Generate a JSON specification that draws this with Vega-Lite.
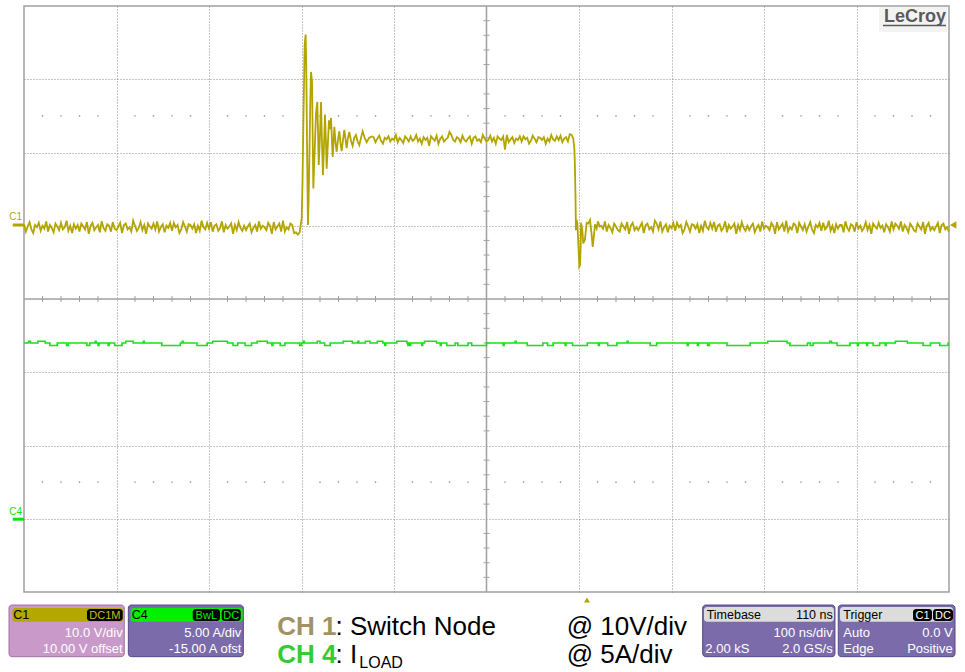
{
"$schema": "https://vega.github.io/schema/vega-lite/v6.json",
"width": 925,
"height": 586,
"autosize": {"type": "none"},
"padding": {"left": 24, "top": 6, "right": 16, "bottom": 80},
"background": "#ffffff",
"config": {
  "view": {"stroke": "#a0a0a0", "strokeWidth": 1.5},
  "axis": {"labels": false, "ticks": false, "domain": false, "titleOpacity": 0, "grid": true, "gridColor": "#8a8a8a", "gridDash": [1, 2], "gridWidth": 1},
  "text": {"font": "Liberation Sans"}
},
"datasets": {
  "gt": [{"t":-590},{"t":-570},{"t":-550},{"t":-530},{"t":-490},{"t":-470},{"t":-450},{"t":-430},{"t":-390},{"t":-370},{"t":-350},{"t":-330},{"t":-290},{"t":-270},{"t":-250},{"t":-230},{"t":-190},{"t":-170},{"t":-150},{"t":-130},{"t":-90},{"t":-70},{"t":-50},{"t":-30},{"t":10},{"t":30},{"t":50},{"t":70},{"t":110},{"t":130},{"t":150},{"t":170},{"t":210},{"t":230},{"t":250},{"t":270},{"t":310},{"t":330},{"t":350},{"t":370}],
  "gv": [{"v":-48},{"v":-46},{"v":-44},{"v":-42},{"v":-38},{"v":-36},{"v":-34},{"v":-32},{"v":-28},{"v":-26},{"v":-24},{"v":-22},{"v":-18},{"v":-16},{"v":-14},{"v":-12},{"v":-8},{"v":-6},{"v":-4},{"v":-2},{"v":2},{"v":4},{"v":6},{"v":8},{"v":12},{"v":14},{"v":16},{"v":18},{"v":22},{"v":24},{"v":26},{"v":28}],
  "boxes": [
      {"k": "c1", "t": -626.2, "t2": -501.6, "v": -51.78, "v2": -58.83},
      {"k": "c4", "t": -497.2, "t2": -372.9, "v": -51.78, "v2": -58.83},
      {"k": "tb", "t": 123.7, "t2": 266.7, "v": -51.78, "v2": -58.83},
      {"k": "tr", "t": 270.3, "t2": 396.5, "v": -51.78, "v2": -58.83}
  ],
  "heads": [
      {"k": "c1h", "t": -622.6, "t2": -502.6, "v": -52.19, "v2": -54.06},
      {"k": "c4h", "t": -494.6, "t2": -373.6, "v": -52.19, "v2": -54.06},
      {"k": "tbh", "t": 125.1, "t2": 265.6, "v": -52.05, "v2": -54.06},
      {"k": "trh", "t": 272.2, "t2": 394.3, "v": -52.05, "v2": -54.06},
      {"k": "b", "t": -541.9, "t2": -503.3, "v": -52.33, "v2": -53.97},
      {"k": "b", "t": -427.6, "t2": -398.1, "v": -52.33, "v2": -53.97},
      {"k": "b", "t": -396.3, "t2": -375.7, "v": -52.33, "v2": -53.97},
      {"k": "b", "t": 351.1, "t2": 371.6, "v": -52.33, "v2": -53.97},
      {"k": "b", "t": 372.7, "t2": 394.3, "v": -52.33, "v2": -53.97}
  ],
  "c1": [
{"t":-610,"v":0.2},{"t":-608,"v":-0.8},{"t":-606,"v":-0.1},{"t":-604,"v":0.5},{"t":-602,"v":-0.5},{"t":-600,"v":-1.0},{"t":-598,"v":0.1},{"t":-596,"v":-0.2},{"t":-594,"v":0.4},{"t":-592,"v":-0.7},
{"t":-590,"v":0.0},{"t":-588,"v":-0.4},{"t":-586,"v":0.6},{"t":-584,"v":-0.8},{"t":-582,"v":0.1},{"t":-580,"v":-0.3},{"t":-578,"v":-0.9},{"t":-576,"v":0.3},{"t":-574,"v":-0.1},{"t":-572,"v":-0.6},
{"t":-570,"v":0.4},{"t":-568,"v":-0.5},{"t":-566,"v":-0.2},{"t":-564,"v":0.7},{"t":-562,"v":-0.7},{"t":-560,"v":0.0},{"t":-558,"v":-1.0},{"t":-556,"v":0.2},{"t":-554,"v":-0.4},{"t":-552,"v":0.1},
{"t":-550,"v":-0.8},{"t":-548,"v":0.3},{"t":-546,"v":-0.1},{"t":-544,"v":-0.5},{"t":-542,"v":0.5},{"t":-540,"v":-1.1},{"t":-538,"v":0.0},{"t":-536,"v":0.4},{"t":-534,"v":-0.6},{"t":-532,"v":-0.2},
{"t":-530,"v":0.1},{"t":-528,"v":-0.9},{"t":-526,"v":0.6},{"t":-524,"v":-0.3},{"t":-522,"v":-0.7},{"t":-520,"v":0.2},{"t":-518,"v":0.0},{"t":-516,"v":-0.8},{"t":-514,"v":0.5},{"t":-512,"v":-0.4},
{"t":-510,"v":-0.6},{"t":-508,"v":-0.1},{"t":-506,"v":0.4},{"t":-504,"v":-1.0},{"t":-502,"v":0.1},{"t":-500,"v":0.3},{"t":-498,"v":-0.5},{"t":-496,"v":-0.2},{"t":-494,"v":-0.8},{"t":-492,"v":0.7},
{"t":-490,"v":0.0},{"t":-488,"v":-0.7},{"t":-486,"v":-0.3},{"t":-484,"v":0.5},{"t":-482,"v":-0.6},{"t":-480,"v":0.1},{"t":-478,"v":-1.1},{"t":-476,"v":0.3},{"t":-474,"v":-0.1},{"t":-472,"v":-0.4},
{"t":-470,"v":0.3},{"t":-468,"v":-0.5},{"t":-466,"v":0.6},{"t":-464,"v":-0.8},{"t":-462,"v":-0.2},{"t":-460,"v":0.2},{"t":-458,"v":-0.9},{"t":-456,"v":0.0},{"t":-454,"v":-0.3},{"t":-452,"v":0.4},
{"t":-450,"v":-0.7},{"t":-448,"v":0.4},{"t":-446,"v":-0.2},{"t":-444,"v":0.1},{"t":-442,"v":-1.0},{"t":-440,"v":-0.5},{"t":-438,"v":0.5},{"t":-436,"v":-0.1},{"t":-434,"v":-0.8},{"t":-432,"v":0.2},
{"t":-430,"v":0.1},{"t":-428,"v":-0.4},{"t":-426,"v":0.2},{"t":-424,"v":-1.0},{"t":-422,"v":0.0},{"t":-420,"v":-0.7},{"t":-418,"v":0.7},{"t":-416,"v":-0.2},{"t":-414,"v":-0.5},{"t":-412,"v":0.4},
{"t":-410,"v":-0.4},{"t":-408,"v":0.5},{"t":-406,"v":-0.8},{"t":-404,"v":0.0},{"t":-402,"v":0.2},{"t":-400,"v":-0.7},{"t":-398,"v":-0.3},{"t":-396,"v":0.6},{"t":-394,"v":-0.9},{"t":-392,"v":0.1},
{"t":-390,"v":-0.4},{"t":-388,"v":-0.1},{"t":-386,"v":0.3},{"t":-384,"v":-1.1},{"t":-382,"v":0.1},{"t":-380,"v":-0.6},{"t":-378,"v":0.5},{"t":-376,"v":-0.3},{"t":-374,"v":-0.7},{"t":-372,"v":0.0},
{"t":-370,"v":-0.6},{"t":-368,"v":-0.1},{"t":-366,"v":0.3},{"t":-364,"v":-0.9},{"t":-362,"v":-0.3},{"t":-360,"v":0.1},{"t":-358,"v":-0.8},{"t":-356,"v":0.6},{"t":-354,"v":-0.4},{"t":-352,"v":0.0},
{"t":-350,"v":-0.2},{"t":-348,"v":-0.6},{"t":-346,"v":0.4},{"t":-344,"v":0.0},{"t":-342,"v":-1.1},{"t":-340,"v":0.5},{"t":-338,"v":-0.5},{"t":-336,"v":-0.1},{"t":-334,"v":0.3},{"t":-332,"v":-0.8},
{"t":-330,"v":0.7},{"t":-328,"v":-0.8},{"t":-326,"v":-0.2},{"t":-324,"v":-0.5},{"t":-322,"v":0.3},{"t":-320,"v":0.1},{"t":-318,"v":-1.0},{"t":-316,"v":-0.9},{"t":-314,"v":-1.2},{"t":-312,"v":-0.9},
{"t":-310.5,"v":0.5},{"t":-309.8,"v":1.0},{"t":-308.9,"v":6.0},{"t":-308.0,"v":13.8},{"t":-307.2,"v":20.0},{"t":-306.6,"v":24.7},{"t":-305.5,"v":26.1},{"t":-304.9,"v":22.0},{"t":-304.4,"v":16.0},{"t":-303.6,"v":6.0},
{"t":-303.0,"v":0.1},{"t":-302.3,"v":3.5},{"t":-301.5,"v":9.2},{"t":-300.5,"v":17.0},{"t":-299.7,"v":21.0},{"t":-298.6,"v":19.7},{"t":-297.9,"v":12.0},{"t":-297.2,"v":5.1},{"t":-295.8,"v":10.1},{"t":-294.3,"v":15.4},
{"t":-292.9,"v":16.9},{"t":-292.1,"v":12.5},{"t":-291.4,"v":8.3},{"t":-290.4,"v":11.0},{"t":-288.9,"v":16.9},{"t":-287.9,"v":11.5},{"t":-286.8,"v":6.9},{"t":-285.7,"v":11.0},{"t":-284.6,"v":15.2},{"t":-283.6,"v":11.5},
{"t":-282.8,"v":7.8},{"t":-281.5,"v":11.2},{"t":-280.3,"v":14.4},{"t":-279.2,"v":13.2},{"t":-278.1,"v":14.7},{"t":-277.2,"v":12.0},{"t":-276.3,"v":9.4},{"t":-274.5,"v":13.5},{"t":-273.2,"v":11.3},{"t":-272.0,"v":10.1},
{"t":-270.5,"v":11.8},{"t":-269.1,"v":12.9},{"t":-267.8,"v":11.2},{"t":-266.6,"v":10.2},{"t":-265.0,"v":11.9},{"t":-263.7,"v":13.1},{"t":-262.5,"v":11.9},{"t":-261.2,"v":10.6},{"t":-259.8,"v":12.0},{"t":-258.3,"v":12.8},
{"t":-256.5,"v":11.6},{"t":-254.7,"v":10.9},{"t":-253.0,"v":12.0},{"t":-251.1,"v":12.4},{"t":-249.3,"v":11.5},{"t":-247.5,"v":11.0},{"t":-245.7,"v":12.0},{"t":-243.9,"v":12.9},{"t":-241.7,"v":12.0},{"t":-239.5,"v":11.4},
{"t":-237.0,"v":12.0},{"t":-234.1,"v":12.2},
{"t":-232,"v":12.1},{"t":-230,"v":11.4},{"t":-228,"v":11.9},{"t":-226,"v":12.3},{"t":-224,"v":11.6},{"t":-222,"v":11.2},{"t":-220,"v":12.0},{"t":-218,"v":11.8},{"t":-216,"v":12.2},{"t":-214,"v":11.5},
{"t":-212,"v":11.9},{"t":-210,"v":11.7},{"t":-208,"v":12.4},{"t":-206,"v":11.4},{"t":-204,"v":12.0},{"t":-202,"v":11.7},{"t":-200,"v":11.3},{"t":-198,"v":12.2},{"t":-196,"v":11.9},{"t":-194,"v":11.5},
{"t":-192,"v":12.2},{"t":-190,"v":11.6},{"t":-188,"v":11.8},{"t":-186,"v":12.4},{"t":-184,"v":11.5},{"t":-182,"v":11.9},{"t":-180,"v":11.2},{"t":-178,"v":12.1},{"t":-176,"v":11.7},{"t":-174,"v":12.0},
{"t":-172,"v":10.9},{"t":-170,"v":12.2},{"t":-168,"v":11.9},{"t":-166,"v":11.6},{"t":-164,"v":12.3},{"t":-162,"v":11.2},{"t":-160,"v":11.9},{"t":-158,"v":12.2},{"t":-156,"v":11.5},{"t":-154,"v":11.8},
{"t":-152,"v":12.0},{"t":-150,"v":12.8},{"t":-148,"v":12.4},{"t":-146,"v":11.7},{"t":-144,"v":11.5},{"t":-142,"v":12.1},{"t":-140,"v":11.9},{"t":-138,"v":11.4},{"t":-136,"v":12.3},{"t":-134,"v":11.7},
{"t":-132,"v":11.5},{"t":-130,"v":11.9},{"t":-128,"v":12.2},{"t":-126,"v":11.2},{"t":-124,"v":12.0},{"t":-122,"v":12.2},{"t":-120,"v":11.6},{"t":-118,"v":11.8},{"t":-116,"v":11.4},{"t":-114,"v":12.4},
{"t":-112,"v":11.9},{"t":-110,"v":11.5},{"t":-108,"v":11.7},{"t":-106,"v":12.3},{"t":-104,"v":11.5},{"t":-102,"v":12.0},{"t":-100,"v":11.2},{"t":-98,"v":12.2},{"t":-96,"v":11.9},{"t":-94,"v":11.7},
{"t":-92,"v":12.2},{"t":-90,"v":10.4},{"t":-88,"v":12.4},{"t":-86,"v":11.4},{"t":-84,"v":11.8},{"t":-82,"v":12.1},{"t":-80,"v":11.3},{"t":-78,"v":11.9},{"t":-76,"v":11.7},{"t":-74,"v":12.2},
{"t":-72,"v":11.5},{"t":-70,"v":12.2},{"t":-68,"v":11.8},{"t":-66,"v":12.0},{"t":-64,"v":11.2},{"t":-62,"v":11.6},{"t":-60,"v":12.3},{"t":-58,"v":11.9},{"t":-56,"v":11.4},{"t":-54,"v":12.1},
{"t":-52,"v":12.0},{"t":-50,"v":11.7},{"t":-48,"v":12.1},{"t":-46,"v":11.2},{"t":-44,"v":11.9},{"t":-42,"v":11.5},{"t":-40,"v":12.4},{"t":-38,"v":11.8},{"t":-36,"v":11.6},{"t":-34,"v":12.2},
{"t":-32,"v":11.7},{"t":-30,"v":12.3},{"t":-28,"v":11.4},{"t":-26,"v":11.9},{"t":-24,"v":12.1},{"t":-22,"v":11.5},{"t":-20,"v":12.5},{"t":-18,"v":12.4},
{"t":-16.2,"v":11.9},{"t":-15.0,"v":10.5},{"t":-14.4,"v":8.1},{"t":-13.8,"v":4.0},{"t":-13.3,"v":-0.6},{"t":-12.5,"v":0.8},{"t":-11.8,"v":0.3},{"t":-10.5,"v":-3.0},{"t":-9.7,"v":-5.6},{"t":-8.9,"v":-5.4},
{"t":-8.2,"v":-2.9},{"t":-7.8,"v":0.4},{"t":-6.4,"v":-0.6},{"t":-5.4,"v":-2.4},{"t":-3.6,"v":-1.9},{"t":-1.7,"v":0.4},{"t":0,"v":0.3},{"t":1.9,"v":0.8},{"t":3.5,"v":-1.0},{"t":4.8,"v":-2.9},
{"t":6.0,"v":-1.5},{"t":7.3,"v":0.2},{"t":9.1,"v":-0.4},{"t":10.5,"v":0.6},{"t":12.3,"v":-0.1},
{"t":14,"v":0.0},{"t":16,"v":-0.4},{"t":18,"v":0.6},{"t":20,"v":-0.8},{"t":22,"v":0.1},{"t":24,"v":-0.3},{"t":26,"v":-0.9},{"t":28,"v":0.3},{"t":30,"v":-0.1},{"t":32,"v":-0.6},
{"t":34,"v":-0.8},{"t":36,"v":0.3},{"t":38,"v":-0.1},{"t":40,"v":-0.5},{"t":42,"v":0.5},{"t":44,"v":-1.1},{"t":46,"v":0.0},{"t":48,"v":0.4},{"t":50,"v":-0.6},{"t":52,"v":-0.2},
{"t":54,"v":-0.6},{"t":56,"v":-0.1},{"t":58,"v":0.4},{"t":60,"v":-1.0},{"t":62,"v":0.1},{"t":64,"v":0.3},{"t":66,"v":-0.5},{"t":68,"v":-0.2},{"t":70,"v":-0.8},{"t":72,"v":0.7},
{"t":74,"v":0.3},{"t":76,"v":-0.5},{"t":78,"v":0.6},{"t":80,"v":-0.8},{"t":82,"v":-0.2},{"t":84,"v":0.2},{"t":86,"v":-0.9},{"t":88,"v":0.0},{"t":90,"v":-0.3},{"t":92,"v":0.4},
{"t":94,"v":-0.7},{"t":96,"v":0.4},{"t":98,"v":-0.2},{"t":100,"v":0.1},{"t":102,"v":-1.0},{"t":104,"v":-0.5},{"t":106,"v":0.5},{"t":108,"v":-0.1},{"t":110,"v":-0.8},{"t":112,"v":0.2},
{"t":114,"v":0.1},{"t":116,"v":-0.4},{"t":118,"v":0.2},{"t":120,"v":-1.0},{"t":122,"v":0.0},{"t":124,"v":-0.7},{"t":126,"v":0.7},{"t":128,"v":-0.2},{"t":130,"v":-0.5},{"t":132,"v":0.4},
{"t":134,"v":-0.4},{"t":136,"v":0.5},{"t":138,"v":-0.8},{"t":140,"v":0.0},{"t":142,"v":0.2},{"t":144,"v":-0.7},{"t":146,"v":-0.3},{"t":148,"v":0.6},{"t":150,"v":-0.9},{"t":152,"v":0.1},
{"t":154,"v":-0.4},{"t":156,"v":-0.1},{"t":158,"v":0.3},{"t":160,"v":-1.1},{"t":162,"v":0.1},{"t":164,"v":-0.6},{"t":166,"v":0.5},{"t":168,"v":-0.3},{"t":170,"v":-0.7},{"t":172,"v":0.0},
{"t":174,"v":-0.6},{"t":176,"v":-0.1},{"t":178,"v":0.3},{"t":180,"v":-0.9},{"t":182,"v":-0.3},{"t":184,"v":0.1},{"t":186,"v":-0.8},{"t":188,"v":0.6},{"t":190,"v":-0.4},{"t":192,"v":0.0},
{"t":194,"v":-0.2},{"t":196,"v":-0.6},{"t":198,"v":0.4},{"t":200,"v":0.0},{"t":202,"v":-1.1},{"t":204,"v":0.5},{"t":206,"v":-0.5},{"t":208,"v":-0.1},{"t":210,"v":0.3},{"t":212,"v":-0.8},
{"t":214,"v":0.7},{"t":216,"v":-0.8},{"t":218,"v":-0.2},{"t":220,"v":-0.5},{"t":222,"v":0.3},{"t":224,"v":0.1},{"t":226,"v":-1.0},{"t":228,"v":0.4},{"t":230,"v":-0.1},{"t":232,"v":-0.6},
{"t":234,"v":0.2},{"t":236,"v":-0.8},{"t":238,"v":-0.1},{"t":240,"v":0.5},{"t":242,"v":-0.5},{"t":244,"v":-1.0},{"t":246,"v":0.1},{"t":248,"v":-0.2},{"t":250,"v":0.4},{"t":252,"v":-0.7},
{"t":254,"v":0.4},{"t":256,"v":-0.5},{"t":258,"v":-0.2},{"t":260,"v":0.7},{"t":262,"v":-0.7},{"t":264,"v":0.0},{"t":266,"v":-1.0},{"t":268,"v":0.2},{"t":270,"v":-0.4},{"t":272,"v":0.1},
{"t":274,"v":0.1},{"t":276,"v":-0.9},{"t":278,"v":0.6},{"t":280,"v":-0.3},{"t":282,"v":-0.7},{"t":284,"v":0.2},{"t":286,"v":0.0},{"t":288,"v":-0.8},{"t":290,"v":0.5},{"t":292,"v":-0.4},
{"t":294,"v":0.0},{"t":296,"v":-0.7},{"t":298,"v":-0.3},{"t":300,"v":0.5},{"t":302,"v":-0.6},{"t":304,"v":0.1},{"t":306,"v":-1.1},{"t":308,"v":0.3},{"t":310,"v":-0.1},{"t":312,"v":-0.4},
{"t":314,"v":0.4},{"t":316,"v":-0.3},{"t":318,"v":0.0},{"t":320,"v":-0.9},{"t":322,"v":0.2},{"t":324,"v":-0.2},{"t":326,"v":-0.8},{"t":328,"v":0.6},{"t":330,"v":-0.5},{"t":332,"v":0.3},
{"t":334,"v":0.0},{"t":336,"v":-0.4},{"t":338,"v":0.6},{"t":340,"v":-0.8},{"t":342,"v":0.1},{"t":344,"v":-0.3},{"t":346,"v":-0.9},{"t":348,"v":0.3},{"t":350,"v":-0.1},{"t":352,"v":-0.6},
{"t":354,"v":-0.8},{"t":356,"v":0.3},{"t":358,"v":-0.1},{"t":360,"v":-0.5},{"t":362,"v":0.5},{"t":364,"v":-1.1},{"t":366,"v":0.0},{"t":368,"v":0.4},{"t":370,"v":-0.6},{"t":372,"v":-0.2},
{"t":374,"v":-0.6},{"t":376,"v":-0.1},{"t":378,"v":0.4},{"t":380,"v":-1.0},{"t":382,"v":0.1},{"t":384,"v":0.3},{"t":386,"v":-0.5},{"t":388,"v":-0.2},{"t":390,"v":-0.8}
  ],
  "c4": [
{"t":-610,"a":12},{"t":-605,"a":12.12},{"t":-603,"a":12},{"t":-595,"a":12.12},{"t":-587,"a":12},{"t":-582,"a":11.83},{"t":-574,"a":12},{"t":-564,"a":11.83},{"t":-562,"a":12},{"t":-542,"a":11.83},{"t":-539,"a":12},{"t":-533,"a":12.12},{"t":-532,"a":12},{"t":-530,"a":11.83},{"t":-529,"a":12},{"t":-519,"a":11.83},{"t":-518,"a":12},{"t":-512,"a":11.83},{"t":-504,"a":12},{"t":-500,"a":12.12},{"t":-492,"a":12},{"t":-481,"a":12.12},{"t":-480,"a":12},{"t":-461,"a":11.83},{"t":-441,"a":12},{"t":-439,"a":12.12},{"t":-438,"a":12},{"t":-423,"a":11.83},{"t":-412,"a":12},{"t":-406,"a":12.12},{"t":-390,"a":12},{"t":-384,"a":11.83},{"t":-379,"a":12},{"t":-371,"a":11.83},{"t":-364,"a":12},{"t":-358,"a":12.12},{"t":-347,"a":12},{"t":-342,"a":11.83},{"t":-341,"a":12},{"t":-333,"a":11.83},{"t":-328,"a":12},{"t":-312,"a":11.83},{"t":-310,"a":12},{"t":-308,"a":12.12},{"t":-307,"a":12},{"t":-293,"a":12.12},{"t":-290,"a":12},{"t":-285,"a":11.83},{"t":-279,"a":12},{"t":-265,"a":12.12},{"t":-255,"a":12},{"t":-249,"a":12.12},{"t":-248,"a":12},{"t":-241,"a":12.12},{"t":-236,"a":12},{"t":-228,"a":12.12},{"t":-222,"a":12},{"t":-220,"a":11.83},{"t":-219,"a":12},{"t":-207,"a":12.12},{"t":-196,"a":12},{"t":-195,"a":11.83},{"t":-194,"a":12},{"t":-193,"a":11.83},{"t":-192,"a":12},{"t":-180,"a":11.83},{"t":-179,"a":12},{"t":-177,"a":12.12},{"t":-164,"a":12},{"t":-160,"a":11.83},{"t":-159,"a":12},{"t":-153,"a":11.83},{"t":-144,"a":12},{"t":-141,"a":11.83},{"t":-130,"a":12},{"t":-126,"a":11.83},{"t":-110,"a":12},{"t":-92,"a":11.83},{"t":-91,"a":12},{"t":-79,"a":12.12},{"t":-78,"a":12},{"t":-66,"a":11.83},{"t":-49,"a":12},{"t":-44,"a":11.83},{"t":-38,"a":12},{"t":-25,"a":11.83},{"t":-24,"a":12},{"t":-17,"a":11.83},{"t":-1,"a":12},{"t":11,"a":11.83},{"t":12,"a":12},{"t":21,"a":11.83},{"t":31,"a":12},{"t":42,"a":12.12},{"t":43,"a":12},{"t":67,"a":11.83},{"t":74,"a":12},{"t":107,"a":11.83},{"t":108,"a":12},{"t":118,"a":11.83},{"t":119,"a":12},{"t":129,"a":11.83},{"t":131,"a":12},{"t":150,"a":11.83},{"t":175,"a":12},{"t":194,"a":12.12},{"t":215,"a":12},{"t":218,"a":11.83},{"t":237,"a":12},{"t":240,"a":11.83},{"t":243,"a":12},{"t":261,"a":12.12},{"t":263,"a":12},{"t":269,"a":11.83},{"t":283,"a":12},{"t":291,"a":11.83},{"t":292,"a":12},{"t":301,"a":11.83},{"t":302,"a":12},{"t":308,"a":11.83},{"t":315,"a":12},{"t":321,"a":11.83},{"t":322,"a":12},{"t":332,"a":12.12},{"t":345,"a":12},{"t":362,"a":11.83},{"t":370,"a":12},{"t":380,"a":11.83},{"t":389,"a":12},{"t":390,"a":12}
  ]
},
"layer": [
 {
  "layer": [
   {
    "data": {"name": "gt"},
    "mark": {"type": "square", "size": 2, "color": "#909090", "opacity": 1},
    "encoding": {
      "x": {"field": "t", "type": "quantitative", "scale": {"domain": [-610, 390], "nice": false, "zero": false}},
      "y": {"datum": 15, "scale": {"domain": [-50, 30], "nice": false, "zero": false}}
    }
   },
   {
    "data": {"name": "gt"},
    "mark": {"type": "square", "size": 2, "color": "#909090", "opacity": 1},
    "encoding": {
      "x": {"field": "t", "type": "quantitative"},
      "y": {"datum": -35}
    }
   },
   {
    "data": {"values": [{}]},
    "mark": {"type": "rule", "color": "#a0a0a0", "strokeWidth": 1.5},
    "encoding": {"x": {"datum": -110}}
   },
   {
    "data": {"values": [{}]},
    "mark": {"type": "rule", "color": "#a0a0a0", "strokeWidth": 1.5},
    "encoding": {"y": {"datum": -10}}
   },
   {
    "data": {"name": "gt"},
    "mark": {"type": "tick", "orient": "vertical", "size": 6, "thickness": 1, "color": "#a0a0a0", "opacity": 1},
    "encoding": {
      "x": {"field": "t", "type": "quantitative"},
      "y": {"datum": -10}
    }
   },
   {
    "data": {"name": "gv"},
    "mark": {"type": "tick", "orient": "horizontal", "size": 6, "thickness": 1, "color": "#a0a0a0", "opacity": 1},
    "encoding": {
      "x": {"datum": -110},
      "y": {"field": "v", "type": "quantitative"}
    }
   },
   {
    "data": {"name": "c1"},
    "mark": {"type": "line", "color": "#b3a500", "strokeWidth": 1.8},
    "encoding": {
      "x": {"field": "t", "type": "quantitative", "scale": {"domain": [-610, 390], "nice": false, "zero": false}, "axis": {"values": [-510, -410, -310, -210, -10, 90, 190, 290]}},
      "y": {"field": "v", "type": "quantitative", "scale": {"domain": [-50, 30], "nice": false, "zero": false}, "axis": {"values": [-40, -30, -20, 0, 10, 20]}}
    }
   },
   {
    "data": {"values": [{}]},
    "mark": {"type": "rule", "color": "#b3a500", "strokeWidth": 3, "clip": false},
    "encoding": {"x": {"datum": -622.2}, "x2": {"datum": -610}, "y": {"datum": 0.1}}
   },
   {
    "data": {"values": [{}]},
    "mark": {"type": "rule", "color": "#10e010", "strokeWidth": 3, "clip": false},
    "encoding": {"x": {"datum": -622.2}, "x2": {"datum": -610}, "y": {"datum": -40.06}}
   },
   {
    "data": {"values": [{"t": -625.9, "v": 0.79, "s": "C1"}]},
    "mark": {"type": "text", "align": "left", "baseline": "alphabetic", "fontSize": 10, "color": "#b3a500", "clip": false},
    "encoding": {"x": {"field": "t", "type": "quantitative"}, "y": {"field": "v", "type": "quantitative"}, "text": {"field": "s"}}
   },
   {
    "data": {"values": [{"t": -625.9, "v": -39.5, "s": "C4"}]},
    "mark": {"type": "text", "align": "left", "baseline": "alphabetic", "fontSize": 10, "color": "#10e010", "clip": false},
    "encoding": {"x": {"field": "t", "type": "quantitative"}, "y": {"field": "v", "type": "quantitative"}, "text": {"field": "s"}}
   },
   {
    "data": {"values": [{"t": 394.5, "v": 0.1}]},
    "mark": {"type": "point", "shape": "triangle-left", "size": 55, "filled": true, "color": "#b3a500", "opacity": 1, "clip": false},
    "encoding": {"x": {"field": "t", "type": "quantitative"}, "y": {"field": "v", "type": "quantitative"}}
   },
   {
    "data": {"values": [{"t": -1.4, "v": -51.1}]},
    "mark": {"type": "point", "shape": "triangle-up", "size": 35, "filled": true, "color": "#b3a500", "opacity": 1, "clip": false},
    "encoding": {"x": {"field": "t", "type": "quantitative"}, "y": {"field": "v", "type": "quantitative"}}
   },
   {
    "data": {"values": [{"t": 314.3, "t2": 387.8, "v": 29.86, "v2": 26.45}]},
    "mark": {"type": "rect", "color": "#f3f3f3", "clip": false},
    "encoding": {"x": {"field": "t", "type": "quantitative"}, "x2": {"field": "t2"}, "y": {"field": "v", "type": "quantitative"}, "y2": {"field": "v2"}}
   },
   {
    "data": {"values": [{"t": 386.8, "v": 27.8, "s": "LeCroy"}]},
    "mark": {"type": "text", "align": "right", "baseline": "alphabetic", "fontSize": 18, "fontWeight": "bold", "color": "#5a5a5a", "clip": false},
    "encoding": {"x": {"field": "t", "type": "quantitative"}, "y": {"field": "v", "type": "quantitative"}, "text": {"field": "s"}}
   },
   {
    "data": {"values": [{"t": 318.6, "t2": 386.8, "v": 27.34}]},
    "mark": {"type": "rule", "color": "#5a5a5a", "strokeWidth": 1.5, "clip": false},
    "encoding": {"x": {"field": "t", "type": "quantitative"}, "x2": {"field": "t2"}, "y": {"field": "v", "type": "quantitative"}}
   },
   {
    "data": {"name": "boxes"},
    "mark": {"type": "rect", "cornerRadius": 3, "strokeWidth": 1, "clip": false},
    "encoding": {
      "x": {"field": "t", "type": "quantitative"}, "x2": {"field": "t2"},
      "y": {"field": "v", "type": "quantitative"}, "y2": {"field": "v2"},
      "fill": {"field": "k", "type": "nominal", "scale": {"domain": ["c1", "c4", "tb", "tr", "c1h", "c4h", "tbh", "trh", "b"], "range": ["#c99ac9", "#7b6bab", "#7b6bab", "#7b6bab", "#b4a800", "#00f000", "#dcdcdc", "#dcdcdc", "#000000"]}, "legend": null},
      "stroke": {"field": "k", "type": "nominal", "scale": {"domain": ["c1", "c4", "tb", "tr"], "range": ["#a070a0", "#55488a", "#55488a", "#55488a"]}, "legend": null}
    }
   },
   {
    "data": {"name": "heads"},
    "mark": {"type": "rect", "cornerRadius": 3, "clip": false},
    "encoding": {
      "x": {"field": "t", "type": "quantitative"}, "x2": {"field": "t2"},
      "y": {"field": "v", "type": "quantitative"}, "y2": {"field": "v2"},
      "fill": {"field": "k", "type": "nominal", "scale": {"domain": ["c1", "c4", "tb", "tr", "c1h", "c4h", "tbh", "trh", "b"], "range": ["#c99ac9", "#7b6bab", "#7b6bab", "#7b6bab", "#b4a800", "#00f000", "#dcdcdc", "#dcdcdc", "#000000"]}, "legend": null}
    }
   },
   {
    "data": {"values": [
      {"t": -503.3, "v": -56.1, "s": "10.0 V/div"},
      {"t": -503.3, "v": -58.29, "s": "10.00 V offset"},
      {"t": -375.0, "v": -56.1, "s": "5.00 A/div"},
      {"t": -375.0, "v": -58.29, "s": "-15.00 A ofst"},
      {"t": 264.3, "v": -56.1, "s": "100 ns/div"},
      {"t": 264.3, "v": -58.29, "s": "2.0 GS/s"},
      {"t": 394.0, "v": -56.1, "s": "0.0 V"},
      {"t": 394.0, "v": -58.29, "s": "Positive"}
    ]},
    "mark": {"type": "text", "align": "right", "baseline": "alphabetic", "fontSize": 13, "color": "#ffffff", "clip": false},
    "encoding": {"x": {"field": "t", "type": "quantitative"}, "y": {"field": "v", "type": "quantitative"}, "text": {"field": "s"}}
   },
   {
    "data": {"values": [
      {"t": 126.6, "v": -58.29, "s": "2.00 kS"},
      {"t": 275.7, "v": -56.1, "s": "Auto"},
      {"t": 275.7, "v": -58.29, "s": "Edge"}
    ]},
    "mark": {"type": "text", "align": "left", "baseline": "alphabetic", "fontSize": 13, "color": "#ffffff", "clip": false},
    "encoding": {"x": {"field": "t", "type": "quantitative"}, "y": {"field": "v", "type": "quantitative"}, "text": {"field": "s"}}
   },
   {
    "data": {"values": [
      {"t": -621.6, "v": -53.75, "s": "C1"},
      {"t": -493.6, "v": -53.75, "s": "C4"},
      {"t": 128.0, "v": -53.75, "s": "Timebase"},
      {"t": 275.7, "v": -53.75, "s": "Trigger"}
    ]},
    "mark": {"type": "text", "align": "left", "baseline": "alphabetic", "fontSize": 12.5, "color": "#000000", "clip": false},
    "encoding": {"x": {"field": "t", "type": "quantitative"}, "y": {"field": "v", "type": "quantitative"}, "text": {"field": "s"}}
   },
   {
    "data": {"values": [{"t": 264.3, "v": -53.75, "s": "110 ns"}]},
    "mark": {"type": "text", "align": "right", "baseline": "alphabetic", "fontSize": 12.5, "color": "#000000", "clip": false},
    "encoding": {"x": {"field": "t", "type": "quantitative"}, "y": {"field": "v", "type": "quantitative"}, "text": {"field": "s"}}
   },
   {
    "data": {"values": [
      {"t": -522.6, "v": -53.65, "s": "DC1M", "k": "o"},
      {"t": -412.9, "v": -53.65, "s": "BwL", "k": "g"},
      {"t": -386.0, "v": -53.65, "s": "DC", "k": "g"},
      {"t": 361.4, "v": -53.65, "s": "C1", "k": "w"},
      {"t": 383.5, "v": -53.65, "s": "DC", "k": "w"}
    ]},
    "mark": {"type": "text", "align": "center", "baseline": "alphabetic", "fontSize": 11, "clip": false},
    "encoding": {
      "x": {"field": "t", "type": "quantitative"}, "y": {"field": "v", "type": "quantitative"}, "text": {"field": "s"},
      "color": {"field": "k", "type": "nominal", "scale": {"domain": ["o", "g", "w"], "range": ["#c8bc20", "#00f000", "#ffffff"]}, "legend": null}
    }
   },
   {
    "data": {"values": [{"t": -336.2, "v": -55.83, "s": "CH 1"}]},
    "mark": {"type": "text", "align": "left", "baseline": "alphabetic", "fontSize": 26, "fontWeight": "bold", "color": "#a09264", "clip": false},
    "encoding": {"x": {"field": "t", "type": "quantitative"}, "y": {"field": "v", "type": "quantitative"}, "text": {"field": "s"}}
   },
   {
    "data": {"values": [{"t": -336.2, "v": -59.73, "s": "CH 4"}]},
    "mark": {"type": "text", "align": "left", "baseline": "alphabetic", "fontSize": 26, "fontWeight": "bold", "color": "#33cc33", "clip": false},
    "encoding": {"x": {"field": "t", "type": "quantitative"}, "y": {"field": "v", "type": "quantitative"}, "text": {"field": "s"}}
   },
   {
    "data": {"values": [
      {"t": -273.3, "v": -55.83, "s": ": Switch Node"},
      {"t": -273.3, "v": -59.73, "s": ": I"},
      {"t": -23.3, "v": -55.83, "s": "@ 10V/div"},
      {"t": -23.3, "v": -59.73, "s": "@ 5A/div"}
    ]},
    "mark": {"type": "text", "align": "left", "baseline": "alphabetic", "fontSize": 26, "color": "#000000", "clip": false},
    "encoding": {"x": {"field": "t", "type": "quantitative"}, "y": {"field": "v", "type": "quantitative"}, "text": {"field": "s"}}
   },
   {
    "data": {"values": [{"t": -247.5, "v": -60.38, "s": "LOAD"}]},
    "mark": {"type": "text", "align": "left", "baseline": "alphabetic", "fontSize": 16, "color": "#000000", "clip": false},
    "encoding": {"x": {"field": "t", "type": "quantitative"}, "y": {"field": "v", "type": "quantitative"}, "text": {"field": "s"}}
   }
  ]
 },
 {
  "data": {"name": "c4"},
  "mark": {"type": "line", "color": "#18e018", "strokeWidth": 1.6, "interpolate": "step-after"},
  "encoding": {
    "x": {"field": "t", "type": "quantitative"},
    "y": {"field": "a", "type": "quantitative", "scale": {"domain": [-5, 35], "nice": false, "zero": false}, "axis": null}
  }
 }
],
"resolve": {"scale": {"y": "independent"}}
}
